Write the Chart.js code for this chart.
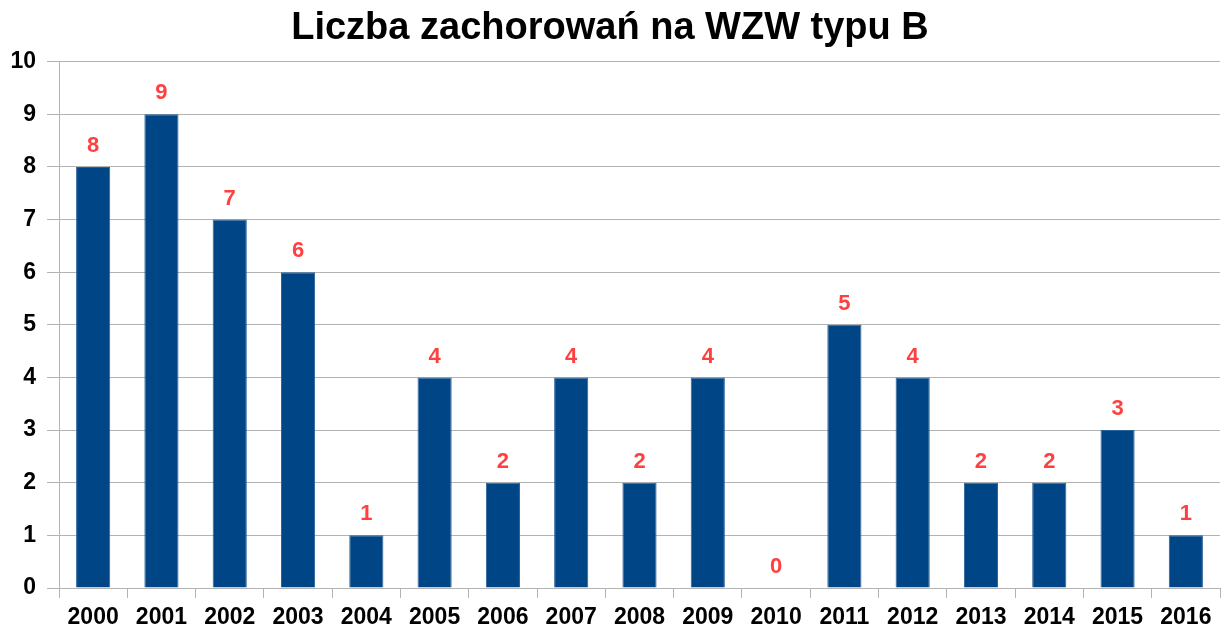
<!DOCTYPE html>
<html>
<head>
<meta charset="utf-8">
<script src="https://cdn.jsdelivr.net/npm/chart.js@4"></script>
<style>
    html, body { margin: 0; padding: 0; background: #fff; }
    #wrap { width: 1221px; height: 628px; }
</style>
</head>
<body>
<div id="wrap"><canvas id="chart" width="1221" height="628"></canvas></div>
<script>
const years = ['2000', '2001', '2002', '2003', '2004', '2005', '2006', '2007', '2008',
    '2009', '2010', '2011', '2012', '2013', '2014', '2015', '2016'];
const cases = [8, 9, 7, 6, 1, 4, 2, 4, 2, 4, 0, 5, 4, 2, 2, 3, 1];
const yTicks = [0, 1, 2, 3, 4, 5, 6, 7, 8, 9, 10];

const FONT = "'Liberation Sans', Arial, sans-serif";
const GRID = '#b3b3b3';

// Etykiety wartosci nad slupkami
const valueLabels = {
    id: 'valueLabels',
    afterDatasetsDraw(chart) {
        const ctx = chart.ctx;
        const meta = chart.getDatasetMeta(0);
        ctx.save();
        ctx.font = 'bold 22px ' + FONT;
        ctx.fillStyle = '#ff4040';
        ctx.textAlign = 'center';
        ctx.textBaseline = 'middle';
        meta.data.forEach((bar, i) => {
            ctx.fillText(String(cases[i]), bar.x, bar.y - 21);
        });
        ctx.restore();
    }
};

new Chart(document.getElementById('chart'), {
    type: 'bar',
    data: {
        labels: years,
        datasets: [{
            data: cases,
            backgroundColor: '#004586',
            borderColor: '#2a6099',
            borderWidth: 1,
            barPercentage: 0.5,
            categoryPercentage: 1
        }]
    },
    options: {
        responsive: false,
        animation: false,
        layout: { padding: { left: 0, right: 1, top: 0, bottom: 0 } },
        plugins: {
            legend: { display: false },
            tooltip: { enabled: false },
            title: {
                display: true,
                text: 'Liczba zachorowań na WZW typu B',
                color: '#000',
                font: { family: FONT, size: 38, weight: 'bold' },
                padding: { top: 6, bottom: 10 }
            }
        },
        scales: {
            y: {
                min: 0,
                max: 10,
                afterBuildTicks(axis) {
                    axis.ticks = yTicks.map(v => ({ value: v }));
                },
                afterFit(axis) { axis.width = 59; },
                border: { color: GRID },
                grid: { color: GRID, tickLength: 12 },
                ticks: {
                    color: '#000',
                    padding: 11,
                    font: { family: FONT, size: 23, weight: 'bold' }
                }
            },
            x: {
                afterFit(axis) { axis.height = 40; },
                border: { color: GRID },
                grid: { color: GRID, drawOnChartArea: false, tickLength: 10, offset: true },
                ticks: {
                    color: '#000',
                    padding: 6,
                    maxRotation: 0,
                    autoSkip: false,
                    font: { family: FONT, size: 23, weight: 'bold' }
                }
            }
        }
    },
    plugins: [valueLabels]
});
</script>
</body>
</html>
